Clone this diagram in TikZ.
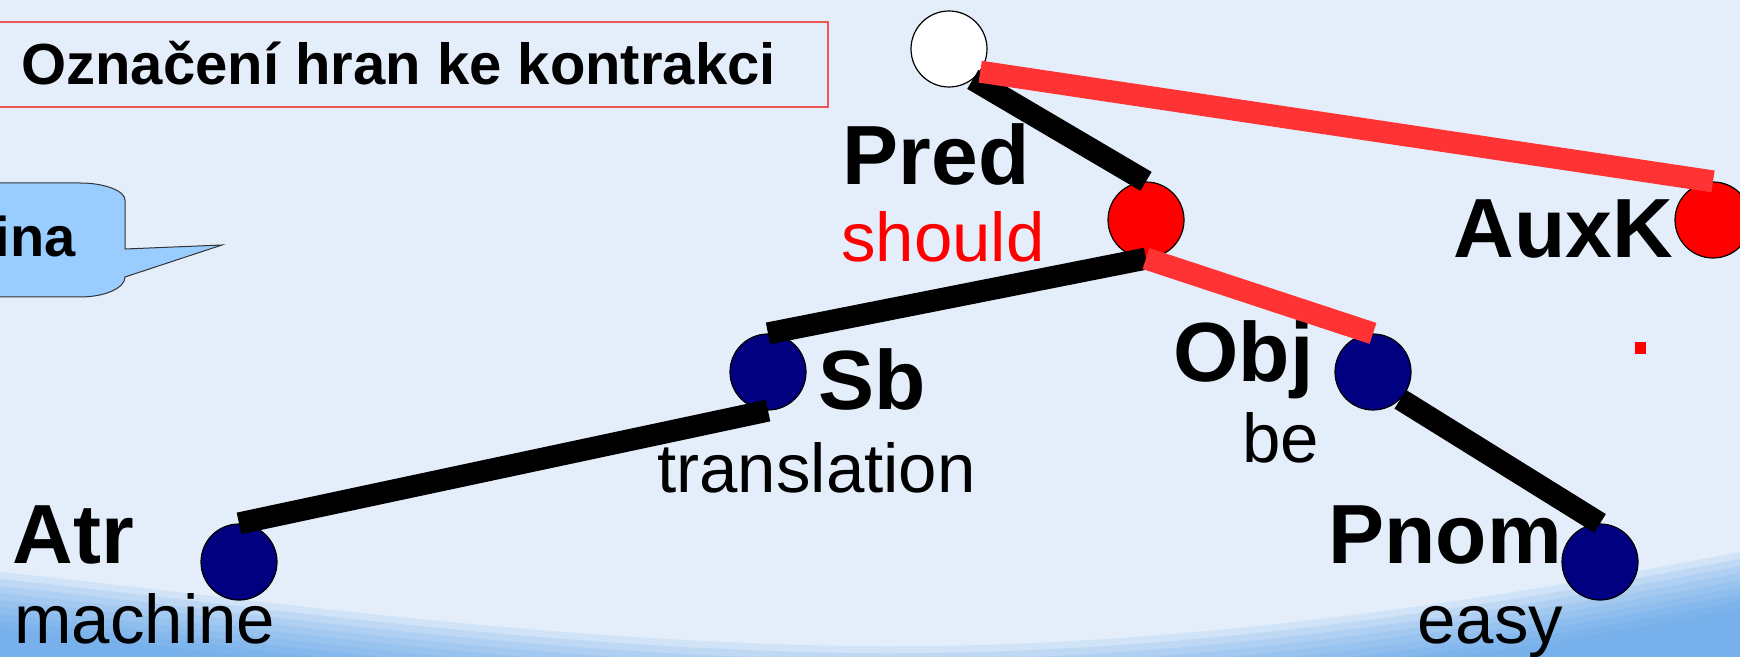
\documentclass[tikz,border=0pt]{standalone}
\usepackage{fontspec}
\setmainfont{Liberation Sans}

\definecolor{bg}{HTML}{E4EEFA}
\definecolor{wave}{HTML}{4F9BE8}
\definecolor{navyfill}{HTML}{000080}
\definecolor{redfill}{HTML}{FF0000}
\definecolor{rededge}{HTML}{FF3333}
\definecolor{boxline}{HTML}{EE5555}
\definecolor{calloutfill}{HTML}{99CCFF}

\begin{document}
\begin{tikzpicture}[x=0.5pt, y=-0.5pt,
  treenode/.style={circle, draw=black, line width=0.6pt, minimum size=38pt, inner sep=0pt},
  rootnode/.style={treenode, fill=white},
  headnode/.style={treenode, fill=redfill},
  depnode/.style={treenode, fill=navyfill},
  blackedge/.style={draw=black, line cap=butt, line width=11pt},
  rededgestyle/.style={draw=rededge, line cap=butt, line width=11pt},
  afun/.style={inner sep=0pt, font=\fontsize{42pt}{42pt}\selectfont\bfseries},
  wordform/.style={inner sep=0pt, font=\fontsize{34.5pt}{34.5pt}\selectfont},
  titletext/.style={inner sep=0pt, font=\fontsize{29pt}{29pt}\selectfont\bfseries},
]
% canvas and background
\useasboundingbox (0,0) rectangle (1740,657);
\clip (0,0) rectangle (1740,657);
\fill[bg] (0,0) rectangle (1740,657);

% soft blue wave along the bottom, built from stacked translucent layers
\foreach \d in {0,7,...,56} {
  \fill[wave, opacity=0.13]
    (0,572+\d) .. controls (250,598+\d) and (520,640+\d) .. (850,646+\d)
    .. controls (1150,650+\d) and (1450,608+\d) .. (1740,552+\d)
    -- (1740,700) -- (0,700) -- cycle;
}

% title box
\draw[boxline, line width=0.8pt] (-10,22) rectangle (828,107);
\node[titletext, anchor=base west] (title) at (21,85) {Označení hran ke kontrakci};

% speech bubble on the left
\draw[fill=calloutfill, draw=black!80, line width=0.5pt]
  (-20,183) -- (80,183) .. controls (105,183) and (125,191) .. (125,200)
  -- (125,249) -- (222,245) -- (125,277)
  .. controls (125,288) and (105,297) .. (80,297) -- (-20,297) -- cycle;
\node[titletext, font=\fontsize{28pt}{28pt}\selectfont\bfseries, anchor=base east] (bubble) at (76,257) {ina};

% tree nodes
\node[rootnode] (root) at (949,49) {};
\node[headnode] (pred) at (1146,220) {};
\node[headnode] (auxk) at (1713,220) {};
\node[depnode] (sb) at (768,372) {};
\node[depnode] (obj) at (1373,372) {};
\node[depnode] (atr) at (239,562) {};
\node[depnode] (pnom) at (1600,562) {};

% labels
\node[afun, anchor=base east] (lpred) at (1030,185) {Pred};
\node[wordform, text=redfill, anchor=base east] (wpred) at (1045,262) {should};
\node[afun, anchor=base west] (lauxk) at (1453,258) {AuxK};
\node[afun, anchor=base west] (lsb) at (818,410) {Sb};
\node[wordform, anchor=base west] (wsb) at (657,493) {translation};
\node[afun, anchor=base west] (lobj) at (1173,382) {Obj};
\node[wordform, anchor=base west] (wobj) at (1242,463) {be};
\node[afun, anchor=base west] (latr) at (12,563) {Atr};
\node[wordform, anchor=base west] (watr) at (14,643) {machine};
\node[afun, anchor=base west] (lpnom) at (1328,563) {Pnom};
\node[wordform, anchor=base west] (wpnom) at (1417,643) {easy};

% small red mark
\fill[redfill] (1635,342) rectangle (1646,354);

% edges
\draw[blackedge] (root.-52) -- (pred.north);
\draw[rededgestyle] (root.-36) -- (auxk.north);
\draw[blackedge] (pred.south) -- (sb.north);
\draw[rededgestyle] (pred.south) -- (obj.north);
\draw[blackedge] (sb.south) -- (atr.north);
\draw[blackedge] (obj.-45) -- (pnom.north);
\end{tikzpicture}
\end{document}
